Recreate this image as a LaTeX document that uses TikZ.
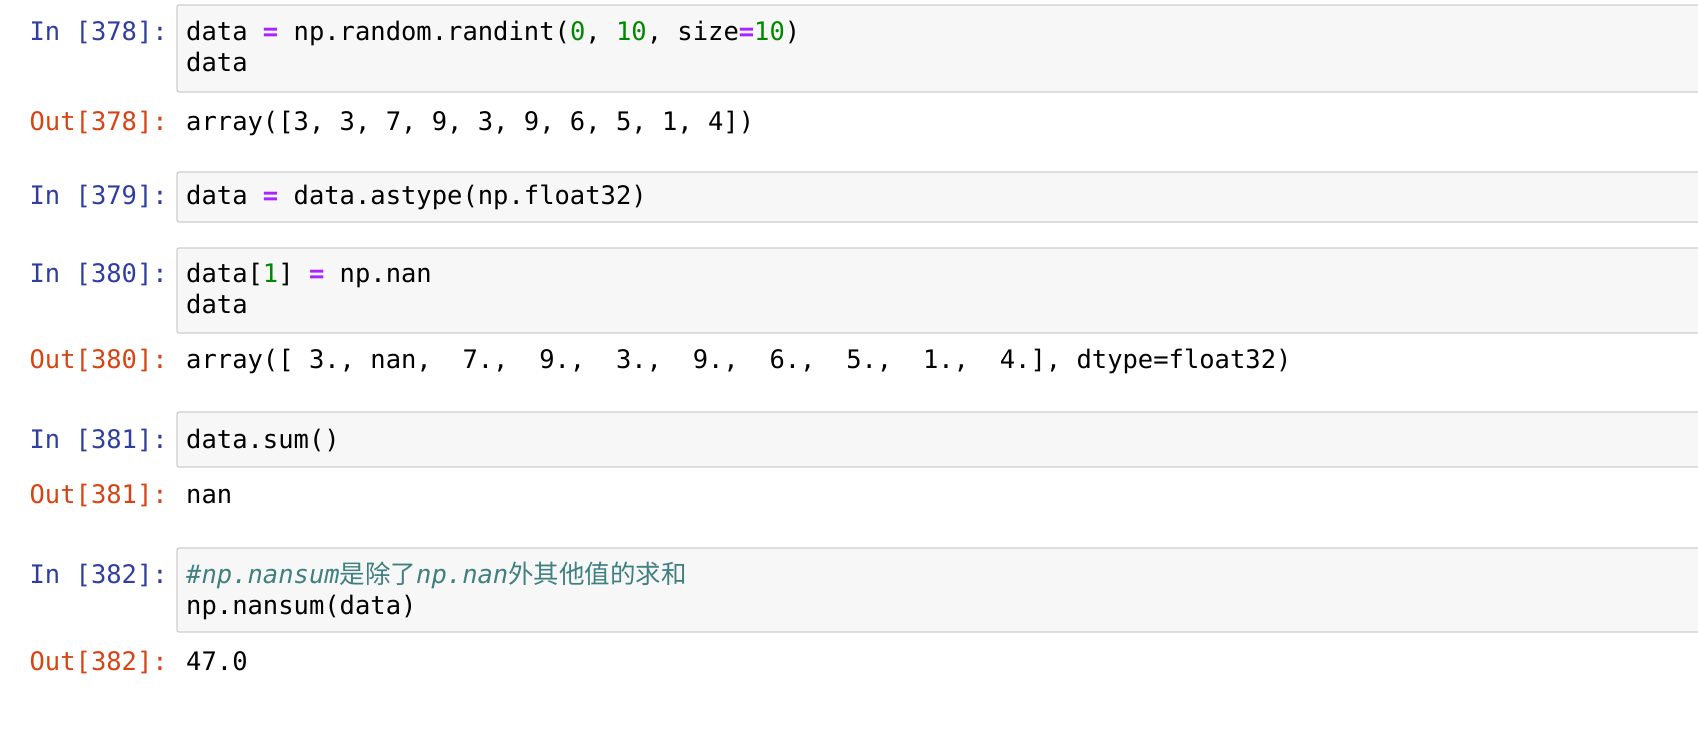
\documentclass[tikz,border=0pt]{standalone}
\usepackage{fontspec}
\setmonofont{DejaVu Sans Mono}
\newfontfamily\cjk{Noto Sans CJK SC}
\definecolor{inc}{HTML}{303F9F}
\definecolor{outc}{HTML}{D84315}
\definecolor{numc}{HTML}{008800}
\definecolor{opc}{HTML}{AA22FF}
\definecolor{comc}{HTML}{408080}
\definecolor{cellbg}{HTML}{F7F7F7}
\definecolor{cellbd}{HTML}{CFCFCF}
\newcommand\myop[1]{\textcolor{opc}{\textbf{#1}}}
\newcommand\mynum[1]{\textcolor{numc}{#1}}
\begin{document}
\begin{tikzpicture}[x=1pt,y=-1pt,
  every node/.style={inner sep=0pt,font=\fontsize{25.5}{30}\ttfamily},
  code/.style={anchor=base west},
  inlab/.style={anchor=base east,text=inc},
  outlab/.style={anchor=base east,text=outc},
  cell/.style={draw=cellbd,fill=cellbg,line width=1.3pt,rounded corners=2pt}]
\useasboundingbox (0,0) rectangle (1698,751);
\fill[white] (0,0) rectangle (1698,751);
\draw[cell] (177,5) rectangle (1710,92);
\draw[cell] (177,172) rectangle (1710,222);
\draw[cell] (177,248) rectangle (1710,333);
\draw[cell] (177,412) rectangle (1710,467);
\draw[cell] (177,548) rectangle (1710,632);
% cell 378
\node[inlab] (i1) at (168,41) {In [378]:};
\node[code] (c1a) at (186,41) {data \myop{=} np.random.randint(\mynum{0}, \mynum{10}, size\myop{=}\mynum{10})};
\node[code] (c1b) at (186,72) {data};
\node[outlab] (o1) at (168,131) {Out[378]:};
\node[code] (r1) at (186,131) {array([3, 3, 7, 9, 3, 9, 6, 5, 1, 4])};
% cell 379
\node[inlab] (i2) at (168,205) {In [379]:};
\node[code] (c2) at (186,205) {data \myop{=} data.astype(np.float32)};
% cell 380
\node[inlab] (i3) at (168,283) {In [380]:};
\node[code] (c3a) at (186,283) {data[\mynum{1}] \myop{=} np.nan};
\node[code] (c3b) at (186,314) {data};
\node[outlab] (o3) at (168,369) {Out[380]:};
\node[code] (r3) at (186,369) {array([\ 3., nan,\ \ 7.,\ \ 9.,\ \ 3.,\ \ 9.,\ \ 6.,\ \ 5.,\ \ 1.,\ \ 4.], dtype=float32)};
% cell 381
\node[inlab] (i4) at (168,448) {In [381]:};
\node[code] (c4) at (186,448) {data.sum()};
\node[outlab] (o4) at (168,503) {Out[381]:};
\node[code] (r4) at (186,503) {nan};
% cell 382
\node[inlab] (i5) at (168,583) {In [382]:};
\node[code,text=comc] (c5a) at (186,583) {\itshape \#np.nansum{\cjk\upshape 是除了}np.nan{\cjk\upshape 外其他值的求和}};
\node[code] (c5b) at (186,614) {np.nansum(data)};
\node[outlab] (o5) at (168,670) {Out[382]:};
\node[code] (r5) at (186,670) {47.0};
\end{tikzpicture}
\end{document}
